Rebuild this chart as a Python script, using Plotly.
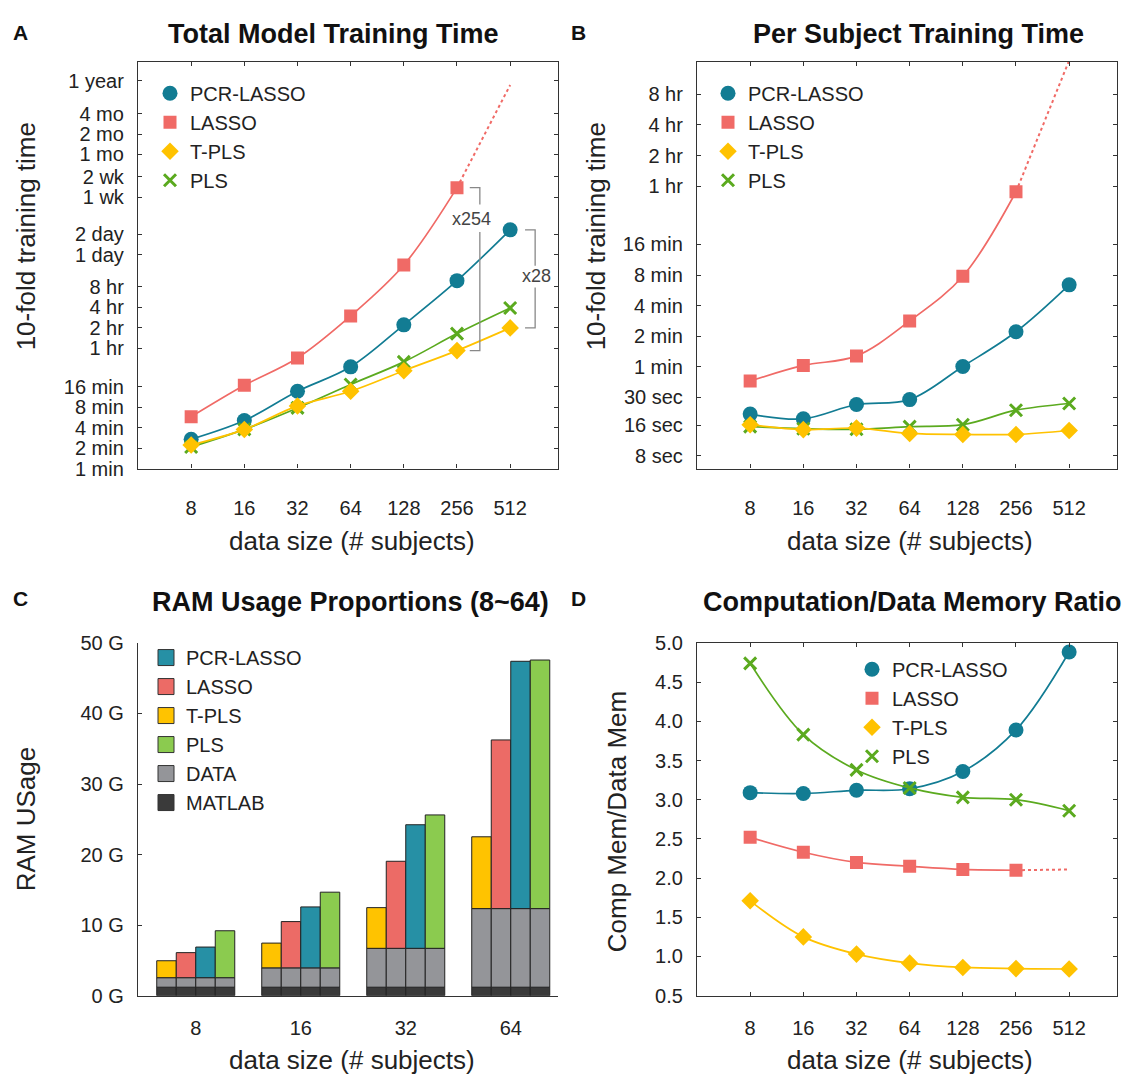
import math
import plotly.graph_objects as go

W, H = 1127, 1087
FONT = "Liberation Sans, Arial, sans-serif"

# ---------------- data ----------------
sizes = [8, 16, 32, 64, 128, 256, 512]
sizes_c = ["8", "16", "32", "64"]

# Panel A: total 10-fold training time (minutes)
a_pcr = [2.7, 5.1, 13.8, 31.7, 132, 592, 3330]
a_lasso = [5.8, 16.9, 42.8, 179, 1008, 13970]          # 8..256 measured
a_lasso_extrap = [13970, 456000]                         # 256 -> 512 projected
a_tpls = [2.22, 3.78, 8.4, 13.8, 27.8, 55, 119]
a_pls = [2.08, 3.78, 7.85, 17.4, 37.5, 98, 234]

# Panel B: per subject training time (seconds)
b_pcr = [20.6, 18.5, 25.6, 28.6, 60.6, 133, 385]
b_lasso = [43.5, 62, 77, 170, 468, 3170]
b_lasso_extrap = [3170, 62000]
b_tpls = [16.2, 14.5, 15.0, 13.3, 13.0, 13.0, 14.2]
b_pls = [15.5, 14.8, 14.6, 15.5, 16.2, 22.5, 26.2]

# Panel C: RAM usage (GB), stacked: MATLAB + DATA + method computation
c_matlab = [1.2, 1.2, 1.2, 1.2]
c_data = [1.35, 2.74, 5.51, 11.14]
c_tpls = [2.4, 3.51, 5.77, 10.18]
c_lasso = [3.55, 6.56, 12.34, 23.91]
c_pcr = [4.34, 8.64, 17.52, 35.06]
c_pls = [6.65, 10.73, 18.91, 35.24]

# Panel D: computation / data memory ratio
d_pcr = [3.09, 3.08, 3.12, 3.14, 3.36, 3.89, 4.885]
d_lasso = [2.52, 2.33, 2.20, 2.15, 2.11, 2.10]
d_lasso_extrap = [2.10, 2.11]
d_tpls = [1.71, 1.25, 1.03, 0.915, 0.86, 0.845, 0.84]
d_pls = [4.74, 3.83, 3.38, 3.15, 3.03, 3.00, 2.86]

# tick labels
a_tickvals = [1, 2, 4, 8, 16, 60, 120, 240, 480, 1440, 2880, 10080, 20160,
              43200, 86400, 172800, 525600]
a_ticktext = ["1 min", "2 min", "4 min", "8 min", "16 min", "1 hr", "2 hr",
              "4 hr", "8 hr", "1 day", "2 day", "1 wk", "2 wk", "1 mo", "2 mo",
              "4 mo", "1 year"]
b_tickvals = [8, 16, 30, 60, 120, 240, 480, 960, 3600, 7200, 14400, 28800]
b_ticktext = ["8 sec", "16 sec", "30 sec", "1 min", "2 min", "4 min", "8 min",
              "16 min", "1 hr", "2 hr", "4 hr", "8 hr"]
c_tickvals = [0, 10, 20, 30, 40, 50]
c_ticktext = ["0 G", "10 G", "20 G", "30 G", "40 G", "50 G"]
d_tickvals = [0.5, 1.0, 1.5, 2.0, 2.5, 3.0, 3.5, 4.0, 4.5, 5.0]
d_ticktext = ["0.5", "1.0", "1.5", "2.0", "2.5", "3.0", "3.5", "4.0", "4.5", "5.0"]

# ---------------- styles ----------------
COL = {"PCR-LASSO": "#127C93", "LASSO": "#F06A66", "T-PLS": "#FFC200", "PLS": "#5BAA1F"}
BARCOL = {"PCR-LASSO": "#2690A5", "LASSO": "#EC6B66", "T-PLS": "#FFC300",
          "PLS": "#8BCB4F", "DATA": "#949599", "MATLAB": "#3A3A3A"}
MARK = {
    "PCR-LASSO": dict(symbol="circle", size=15, color=COL["PCR-LASSO"]),
    "LASSO": dict(symbol="square", size=13, color=COL["LASSO"]),
    "T-PLS": dict(symbol="diamond", size=13.5, color=COL["T-PLS"]),
    "PLS": dict(symbol="x-thin", size=12, color=COL["PLS"],
                line=dict(width=3, color=COL["PLS"])),
}
RANK = {"PCR-LASSO": 1, "LASSO": 2, "T-PLS": 3, "PLS": 4}


def px(x):
    return x / W


def py(y):
    return 1 - y / H


fig = go.Figure()


def add_series(name, xs, ys, xa, ya, leg, extrap=None):
    fig.add_trace(go.Scatter(x=xs[:len(ys)], y=ys, mode="lines", xaxis=xa, yaxis=ya,
                             line=dict(color=COL[name], width=1.7, shape="spline", smoothing=1.0),
                             showlegend=False, hoverinfo="skip"))
    if extrap is not None:
        fig.add_trace(go.Scatter(x=xs[len(ys) - 1:len(ys) + 1], y=extrap, mode="lines",
                                 xaxis=xa, yaxis=ya,
                                 line=dict(color=COL[name], width=2, dash="dot"),
                                 showlegend=False, hoverinfo="skip"))
    fig.add_trace(go.Scatter(x=xs[:len(ys)], y=ys, mode="markers", xaxis=xa, yaxis=ya,
                             marker=MARK[name], name=name, legend=leg,
                             legendrank=RANK[name], showlegend=True))


# draw order: LASSO, PCR, PLS, T-PLS (top)
for xa, ya, leg, data in [
    ("x", "y", "legend", dict(lasso=(a_lasso, a_lasso_extrap), pcr=a_pcr, pls=a_pls, tpls=a_tpls)),
    ("x2", "y2", "legend2", dict(lasso=(b_lasso, b_lasso_extrap), pcr=b_pcr, pls=b_pls, tpls=b_tpls)),
    ("x4", "y4", "legend4", dict(lasso=(d_lasso, d_lasso_extrap), pcr=d_pcr, pls=d_pls, tpls=d_tpls)),
]:
    add_series("LASSO", sizes, data["lasso"][0], xa, ya, leg, extrap=data["lasso"][1])
    add_series("PCR-LASSO", sizes, data["pcr"], xa, ya, leg)
    add_series("PLS", sizes, data["pls"], xa, ya, leg)
    add_series("T-PLS", sizes, data["tpls"], xa, ya, leg)

# ---- Panel A ratio brackets (derived from data) ----
i256, i512 = sizes.index(256), sizes.index(512)
ratio1 = a_lasso[i256] / a_tpls[i256]
ratio2 = a_pcr[i512] / a_tpls[i512]


def bracket(xl, xr, ytop, ybot, gtop, gbot):
    xs = [xl, xr, xr, None, xr, xr, xl]
    ys = [ytop, ytop, gtop, None, gbot, ybot, ybot]
    fig.add_trace(go.Scatter(x=xs, y=ys, mode="lines", xaxis="x", yaxis="y",
                             line=dict(color="#888888", width=1.3),
                             showlegend=False, hoverinfo="skip"))


bracket(2 ** 8.24, 2 ** 8.43, a_lasso[i256], a_tpls[i256], 7900, 3100)
bracket(2 ** 9.28, 2 ** 9.47, a_pcr[i512], a_tpls[i512], 980, 470)

annotations = []
annotations.append(dict(x=math.log10(2 ** 8.28), y=math.log10(4800), xref="x", yref="y",
                        text="x%d" % round(ratio1), showarrow=False,
                        font=dict(size=18, color="#444", family=FONT)))
annotations.append(dict(x=math.log10(2 ** 9.5), y=math.log10(700), xref="x", yref="y",
                        text="x%d" % round(ratio2), showarrow=False,
                        font=dict(size=18, color="#444", family=FONT)))

# ---------------- Panel C bars ----------------
c_methods = [("T-PLS", c_tpls), ("LASSO", c_lasso), ("PCR-LASSO", c_pcr), ("PLS", c_pls)]
for name, vals in c_methods:
    base_data = c_matlab
    base_meth = [m + d for m, d in zip(c_matlab, c_data)]
    for lab, yv, base in [("MATLAB", c_matlab, [0] * 4), ("DATA", c_data, base_data),
                          (name, vals, base_meth)]:
        fig.add_trace(go.Bar(x=sizes_c, y=yv, base=base, offsetgroup=name,
                             xaxis="x3", yaxis="y3",
                             marker=dict(color=BARCOL[lab], line=dict(color="#222", width=1)),
                             showlegend=False, hoverinfo="skip"))
for lab in ["PCR-LASSO", "LASSO", "T-PLS", "PLS", "DATA", "MATLAB"]:
    fig.add_trace(go.Scatter(x=[None], y=[None], mode="markers", xaxis="x3", yaxis="y3",
                             marker=dict(symbol="square", size=18, color=BARCOL[lab],
                                         line=dict(color="#333", width=1)),
                             name=lab, legend="legend3", showlegend=True))

# ---------------- axes ----------------
tickfont = dict(size=20, color="#222", family=FONT)


def box_axis(**kw):
    d = dict(showline=True, linecolor="#333", linewidth=1.3, mirror="allticks",
             ticks="inside", ticklen=4, tickcolor="#333", showgrid=False,
             zeroline=False, tickfont=tickfont)
    d.update(kw)
    return d


xlog_range = [math.log10(4), math.log10(2 ** 9.9)]
dom_a_x = [px(138), px(558)]
dom_b_x = [px(697), px(1117)]
dom_top_y = [py(467), py(52)]
dom_c_x = [px(138), px(558)]
dom_bot_y = [py(1005), py(645)]

fig.update_layout(
    xaxis=box_axis(domain=dom_a_x, anchor="y", type="log", range=xlog_range,
                   tickvals=sizes, ticktext=[str(s) for s in sizes], ticklabelstandoff=21),
    yaxis=box_axis(domain=dom_top_y, anchor="x", type="log", range=[0, 6],
                   tickvals=a_tickvals, ticktext=a_ticktext, ticklabelstandoff=9),
    xaxis2=box_axis(domain=dom_b_x, anchor="y2", type="log", range=xlog_range,
                    tickvals=sizes, ticktext=[str(s) for s in sizes], ticklabelstandoff=21),
    yaxis2=box_axis(domain=dom_top_y, anchor="x2", type="log",
                    range=[math.log10(6), math.log10(60000)],
                    tickvals=b_tickvals, ticktext=b_ticktext, ticklabelstandoff=9),
    xaxis3=dict(domain=dom_c_x, anchor="y3", type="category", range=[-0.55, 3.45],
                showline=True, linecolor="#333", linewidth=1.3, ticks="", showgrid=False,
                zeroline=False, tickfont=tickfont, ticklabelstandoff=14),
    yaxis3=dict(domain=dom_bot_y, anchor="x3", range=[0, 50], showline=True,
                linecolor="#333", linewidth=1.3, ticks="inside", ticklen=4, tickcolor="#333",
                showgrid=False, zeroline=False, tickfont=tickfont,
                tickvals=c_tickvals, ticktext=c_ticktext, ticklabelstandoff=9),
    xaxis4=box_axis(domain=dom_b_x, anchor="y4", type="log", range=xlog_range,
                    tickvals=sizes, ticktext=[str(s) for s in sizes], ticklabelstandoff=14),
    yaxis4=box_axis(domain=dom_bot_y, anchor="x4", range=[0.5, 5.0],
                    tickvals=d_tickvals, ticktext=d_ticktext, ticklabelstandoff=9),
    barmode="group", bargap=0.257, bargroupgap=0,
)

legfont = dict(size=20, color="#222", family=FONT)
leg_common = dict(font=legfont, bgcolor="rgba(0,0,0,0)", xanchor="left", yanchor="top",
                  tracegroupgap=0, itemwidth=30)
fig.update_layout(
    legend=dict(x=px(150), y=py(64), **leg_common),
    legend2=dict(x=px(708), y=py(64), **leg_common),
    legend3=dict(x=px(146), y=py(640), **leg_common),
    legend4=dict(x=px(852), y=py(652), **leg_common),
)


# titles, panel letters, axis titles
def txt(x, y, s, size, bold=False, angle=0, color="#111"):
    annotations.append(dict(x=px(x), y=py(y), xref="paper", yref="paper",
                            text="<b>%s</b>" % s if bold else s, showarrow=False,
                            textangle=angle, xanchor="center", yanchor="middle",
                            font=dict(size=size, color=color, family=FONT)))


txt(20, 22, "A", 21, bold=True)
txt(578, 22, "B", 21, bold=True)
txt(20, 600, "C", 21, bold=True)
txt(578, 600, "D", 21, bold=True)
txt(333, 23, "Total Model Training Time", 27, bold=True)
txt(918, 23, "Per Subject Training Time", 27, bold=True)
txt(350, 603, "RAM Usage Proportions (8~64)", 27, bold=True)
txt(912, 603, "Computation/Data Memory Ratio", 27, bold=True)
txt(26, 230, "10-fold training time", 26, angle=-90, color="#222")
txt(596, 230, "10-fold training time", 26, angle=-90, color="#222")
txt(26, 825, "RAM USage", 26, angle=-90, color="#222")
txt(617, 827, "Comp Mem/Data Mem", 26, angle=-90, color="#222")
txt(352, 541, "data size (# subjects)", 26, color="#222")
txt(910, 541, "data size (# subjects)", 26, color="#222")
txt(352, 1071, "data size (# subjects)", 26, color="#222")
txt(910, 1071, "data size (# subjects)", 26, color="#222")

fig.update_layout(
    annotations=annotations,
    width=W, height=H, autosize=False,
    margin=dict(l=0, r=0, t=0, b=0),
    paper_bgcolor="white", plot_bgcolor="white",
    font=dict(family=FONT, color="#222"),
)

fig.write_html("out.html", config={"displayModeBar": False},
               post_script="document.body.style.margin='0px';document.body.style.padding='0px';")
